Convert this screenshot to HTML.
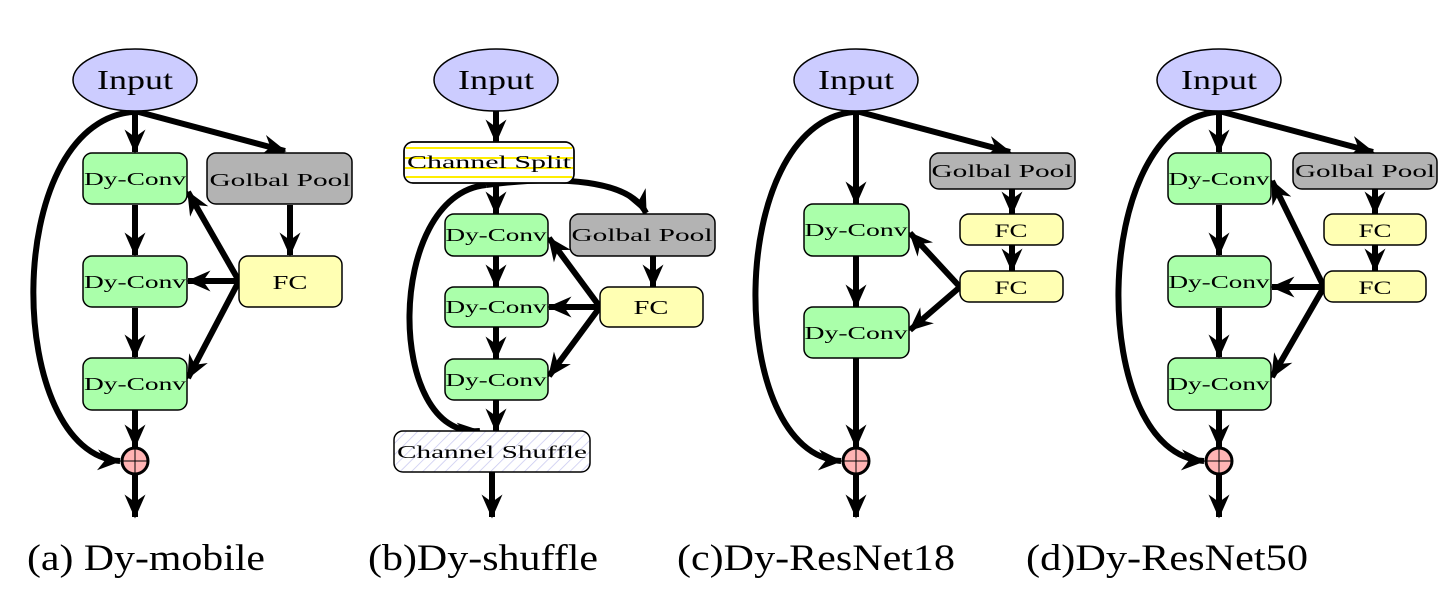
<!DOCTYPE html>
<html><head><meta charset="utf-8"><style>
html,body{margin:0;padding:0;background:#fff;}
svg{display:block;}
text{font-family:"Liberation Serif",serif;fill:#000;}
</style></head><body>
<svg width="1439" height="606" viewBox="0 0 1439 606" xmlns="http://www.w3.org/2000/svg">
<defs>
<marker id="ah" viewBox="0 0 16 16" markerWidth="24" markerHeight="24" markerUnits="userSpaceOnUse" refX="15" refY="8" orient="auto">
<path d="M0,1 L16,8 L0,15 L5,8 z" fill="#000"/>
</marker>
<pattern id="hatch" width="8" height="8" patternUnits="userSpaceOnUse" patternTransform="rotate(45)">
<rect width="8" height="8" fill="#fff"/><line x1="0" y1="0" x2="0" y2="8" stroke="#c8c8f0" stroke-width="1.5"/>
</pattern>
</defs>
<g stroke="#000" stroke-width="6" fill="none" marker-end="url(#ah)">
<!-- panel a -->
<path d="M135,111 L135,152"/>
<path d="M135,111 L285,151"/>
<path d="M132,112 C0,125 5,455 120,461"/>
<path d="M135,205 L135,255"/>
<path d="M135,308 L135,357"/>
<path d="M135,410 L135,447"/>
<path d="M290,205 L290,255"/>
<path d="M239,281 L188,192"/>
<path d="M239,281 L188,281"/>
<path d="M239,281 L188,378"/>
<path d="M135,475 L135,517"/>
<!-- panel b -->
<path d="M496,111 L496,142"/>
<path d="M496,183 L496,214"/>
<path d="M486,185 C385,195 385,440 480,431"/>
<path d="M486,185 C560,175 630,180 646,213"/>
<path d="M496,256 L496,287"/>
<path d="M496,327 L496,359"/>
<path d="M496,400 L496,431"/>
<path d="M653,256 L653,287"/>
<path d="M600,307 L549,238"/>
<path d="M600,307 L549,307"/>
<path d="M600,307 L549,376"/>
<path d="M492,472 L492,517"/>
<!-- panel c -->
<path d="M856,111 L856,204"/>
<path d="M856,111 L1010,152"/>
<path d="M853,112 C725,125 725,455 841,461"/>
<path d="M856,256 L856,307"/>
<path d="M856,358 L856,447"/>
<path d="M1012,189 L1012,214"/>
<path d="M1012,245 L1012,271"/>
<path d="M960,287 L910,233"/>
<path d="M960,287 L910,330"/>
<path d="M856,475 L856,517"/>
<!-- panel d -->
<path d="M1219,111 L1219,152"/>
<path d="M1219,111 L1373,152"/>
<path d="M1216,112 C1088,125 1088,455 1204,461"/>
<path d="M1219,205 L1219,255"/>
<path d="M1219,308 L1219,357"/>
<path d="M1219,410 L1219,447"/>
<path d="M1375,189 L1375,214"/>
<path d="M1375,245 L1375,271"/>
<path d="M1324,287 L1272,181"/>
<path d="M1324,287 L1272,287"/>
<path d="M1324,287 L1272,377"/>
<path d="M1219,475 L1219,517"/>
</g>

<g stroke="#000" stroke-width="1.5">
<ellipse cx="135" cy="80" rx="62" ry="31" fill="#ccccff"/>
<ellipse cx="496" cy="80" rx="62" ry="31" fill="#ccccff"/>
<ellipse cx="856" cy="80" rx="62" ry="31" fill="#ccccff"/>
<ellipse cx="1219" cy="80" rx="62" ry="31" fill="#ccccff"/>
<rect x="83" y="153" width="104" height="51" rx="9" fill="#aaffaa"/>
<rect x="83" y="256" width="104" height="51" rx="9" fill="#aaffaa"/>
<rect x="83" y="358" width="104" height="52" rx="9" fill="#aaffaa"/>
<rect x="207" y="153" width="145" height="51" rx="9" fill="#b3b3b3"/>
<rect x="239" y="256" width="103" height="51" rx="9" fill="#ffffb3"/>
<rect x="404" y="142" width="170" height="41" rx="9" fill="#fff"/>
<rect x="445" y="214" width="103" height="42" rx="9" fill="#aaffaa"/>
<rect x="445" y="287" width="103" height="40" rx="9" fill="#aaffaa"/>
<rect x="445" y="359" width="103" height="41" rx="9" fill="#aaffaa"/>
<rect x="570" y="214" width="145" height="42" rx="9" fill="#b3b3b3"/>
<rect x="600" y="287" width="103" height="40" rx="9" fill="#ffffb3"/>
<rect x="394" y="431" width="196" height="41" rx="9" fill="url(#hatch)"/>
<rect x="804" y="204" width="105" height="52" rx="9" fill="#aaffaa"/>
<rect x="804" y="307" width="105" height="51" rx="9" fill="#aaffaa"/>
<rect x="930" y="153" width="145" height="36" rx="9" fill="#b3b3b3"/>
<rect x="960" y="214" width="103" height="31" rx="9" fill="#ffffb3"/>
<rect x="960" y="271" width="103" height="31" rx="9" fill="#ffffb3"/>
<rect x="1168" y="153" width="103" height="51" rx="9" fill="#aaffaa"/>
<rect x="1168" y="256" width="103" height="51" rx="9" fill="#aaffaa"/>
<rect x="1168" y="358" width="103" height="52" rx="9" fill="#aaffaa"/>
<rect x="1293" y="153" width="144" height="36" rx="9" fill="#b3b3b3"/>
<rect x="1324" y="214" width="102" height="31" rx="9" fill="#ffffb3"/>
<rect x="1324" y="271" width="102" height="31" rx="9" fill="#ffffb3"/>
</g>
<g stroke="#ffee00" stroke-width="2">
<line x1="406" y1="148" x2="572" y2="148"/>
<line x1="405" y1="158" x2="573" y2="158"/>
<line x1="405" y1="168" x2="573" y2="168"/>
<line x1="406" y1="177" x2="572" y2="177"/>
</g>
<rect x="404" y="142" width="170" height="41" rx="9" fill="none" stroke="#000" stroke-width="1.5"/>

<g stroke="#000">
<g><ellipse cx="135" cy="461" rx="13" ry="13" fill="#ffb3b3" stroke-width="3"/><path d="M122,461 H148 M135,448 V474" stroke-width="1"/></g>
<g><ellipse cx="856" cy="461" rx="13" ry="13" fill="#ffb3b3" stroke-width="3"/><path d="M843,461 H869 M856,448 V474" stroke-width="1"/></g>
<g><ellipse cx="1219" cy="461" rx="13" ry="13" fill="#ffb3b3" stroke-width="3"/><path d="M1206,461 H1232 M1219,448 V474" stroke-width="1"/></g>
</g>

<g text-anchor="middle">
<text x="135" y="89" font-size="27" textLength="76" lengthAdjust="spacingAndGlyphs">Input</text>
<text x="496" y="89" font-size="27" textLength="76" lengthAdjust="spacingAndGlyphs">Input</text>
<text x="856" y="89" font-size="27" textLength="76" lengthAdjust="spacingAndGlyphs">Input</text>
<text x="1219" y="89" font-size="27" textLength="76" lengthAdjust="spacingAndGlyphs">Input</text>
</g>
<g text-anchor="middle" font-size="18">
<text x="135" y="185" textLength="102" lengthAdjust="spacingAndGlyphs">Dy-Conv</text>
<text x="135" y="288" textLength="102" lengthAdjust="spacingAndGlyphs">Dy-Conv</text>
<text x="135" y="390" textLength="102" lengthAdjust="spacingAndGlyphs">Dy-Conv</text>
<text x="280" y="186" textLength="141" lengthAdjust="spacingAndGlyphs">Golbal Pool</text>
<text x="290" y="289" font-size="20" textLength="35" lengthAdjust="spacingAndGlyphs">FC</text>
<text x="489" y="168" textLength="164" lengthAdjust="spacingAndGlyphs">Channel Split</text>
<text x="496" y="241" textLength="101" lengthAdjust="spacingAndGlyphs">Dy-Conv</text>
<text x="496" y="313" textLength="101" lengthAdjust="spacingAndGlyphs">Dy-Conv</text>
<text x="496" y="386" textLength="101" lengthAdjust="spacingAndGlyphs">Dy-Conv</text>
<text x="642" y="241" textLength="141" lengthAdjust="spacingAndGlyphs">Golbal Pool</text>
<text x="651" y="314" font-size="20" textLength="35" lengthAdjust="spacingAndGlyphs">FC</text>
<text x="492" y="458" textLength="190" lengthAdjust="spacingAndGlyphs">Channel Shuffle</text>
<text x="856" y="236" textLength="103" lengthAdjust="spacingAndGlyphs">Dy-Conv</text>
<text x="856" y="339" textLength="103" lengthAdjust="spacingAndGlyphs">Dy-Conv</text>
<text x="1002" y="177" textLength="141" lengthAdjust="spacingAndGlyphs">Golbal Pool</text>
<text x="1011" y="237" font-size="19" textLength="33" lengthAdjust="spacingAndGlyphs">FC</text>
<text x="1011" y="294" font-size="19" textLength="33" lengthAdjust="spacingAndGlyphs">FC</text>
<text x="1219" y="185" textLength="101" lengthAdjust="spacingAndGlyphs">Dy-Conv</text>
<text x="1219" y="288" textLength="101" lengthAdjust="spacingAndGlyphs">Dy-Conv</text>
<text x="1219" y="390" textLength="101" lengthAdjust="spacingAndGlyphs">Dy-Conv</text>
<text x="1365" y="177" textLength="140" lengthAdjust="spacingAndGlyphs">Golbal Pool</text>
<text x="1375" y="237" font-size="19" textLength="33" lengthAdjust="spacingAndGlyphs">FC</text>
<text x="1375" y="294" font-size="19" textLength="33" lengthAdjust="spacingAndGlyphs">FC</text>
</g>
<g font-size="37">
<text x="27" y="570" textLength="238" lengthAdjust="spacingAndGlyphs">(a) Dy-mobile</text>
<text x="368" y="570" textLength="230" lengthAdjust="spacingAndGlyphs">(b)Dy-shuffle</text>
<text x="677" y="570" textLength="278" lengthAdjust="spacingAndGlyphs">(c)Dy-ResNet18</text>
<text x="1026" y="570" textLength="282" lengthAdjust="spacingAndGlyphs">(d)Dy-ResNet50</text>
</g>
</svg>
</body></html>
